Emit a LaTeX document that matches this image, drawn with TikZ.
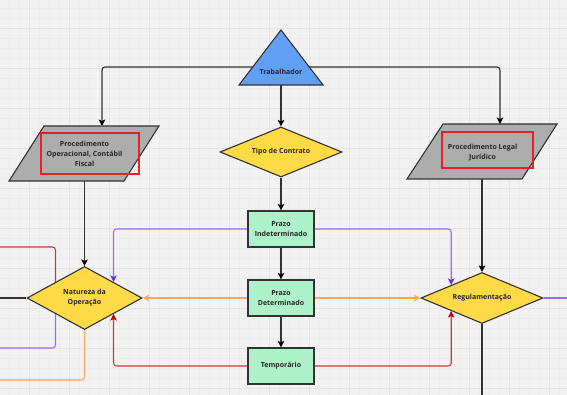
\documentclass[tikz,border=0pt]{standalone}
\usepackage{fontspec}
\setmainfont{Open Sans}
\usetikzlibrary{shapes.geometric,arrows.meta,calc}
\pgfdeclarelayer{grid}
\pgfdeclarelayer{conn}
\pgfsetlayers{grid,conn,main}
\definecolor{bgc}{HTML}{F2F2F2}
\definecolor{gridminor}{HTML}{EDEDED}
\definecolor{gridmajor}{HTML}{E4E4E4}
\definecolor{outl}{HTML}{333333}
\definecolor{triblue}{HTML}{619FF3}
\definecolor{diayel}{HTML}{FFDA47}
\definecolor{boxgreen}{HTML}{ADF2C9}
\definecolor{paragray}{HTML}{ADADAD}
\definecolor{redrect}{HTML}{E8202A}
\definecolor{purL}{HTML}{9C6CF0}
\definecolor{purD}{HTML}{6A33E0}
\definecolor{oraL}{HTML}{FFA858}
\definecolor{redL}{HTML}{CC3B3B}
\definecolor{redD}{HTML}{C00000}
\definecolor{txtc}{HTML}{262626}
\begin{document}
\begin{tikzpicture}[x=1pt,y=-1pt,
  txt/.style={font=\fontsize{7}{9.8}\selectfont\bfseries, align=center, text=txtc, inner sep=0pt},
  shp/.style={draw=outl, line width=1.1pt},
  dia/.style={shp, diamond, aspect=2, inner sep=0pt, fill=diayel, txt},
  gbox/.style={shp, rectangle, fill=boxgreen, minimum width=66pt, minimum height=36pt, inner sep=0pt, txt},
  conn/.style={draw=outl, line width=1.1pt, rounded corners=3pt, -{Stealth[length=6.5pt,width=6.5pt,inset=1.5pt,color=black]}},
  line/.style={draw=outl, line width=1.1pt, rounded corners=3pt},
  purc/.style={draw=purL, line width=1.1pt, rounded corners=3pt, -{Stealth[length=6.5pt,width=6.5pt,inset=1.5pt,color=purD]}},
  purl/.style={draw=purL, line width=1.1pt, rounded corners=3pt},
  orac/.style={draw=oraL, line width=1.1pt, rounded corners=3pt, -{Stealth[length=6.5pt,width=6.5pt,inset=1.5pt,color=oraL]}},
  oral/.style={draw=oraL, line width=1.1pt, rounded corners=3pt},
  redc/.style={draw=redL, line width=1.1pt, rounded corners=3pt, -{Stealth[length=6.5pt,width=6.5pt,inset=1.5pt,color=redD]}},
  redl/.style={draw=redL, line width=1.1pt, rounded corners=3pt},
  redbox/.style={draw=redrect, line width=1.1pt}
]
\useasboundingbox (0,0) rectangle (567,395);
\begin{pgfonlayer}{grid}
  \fill[bgc] (0,0) rectangle (567,395);
  \foreach \x in {9,19,...,567} \draw[gridminor, line width=0.4pt] (\x,0) -- (\x,395);
  \foreach \y in {8,18,...,395} \draw[gridminor, line width=0.4pt] (0,\y) -- (567,\y);
  \foreach \x in {29,69,...,567} \draw[gridmajor, line width=0.8pt] (\x,0) -- (\x,395);
  \foreach \y in {28,68,...,395} \draw[gridmajor, line width=0.8pt] (0,\y) -- (567,\y);
\end{pgfonlayer}

% Trabalhador triangle
\filldraw[shp, fill=triblue, line join=miter] (281,30) -- (323,85) -- (239,85) -- cycle;
\node[txt] (trab) at (281,72) {Trabalhador};
\coordinate (trabC) at (281,67);
\coordinate (trabB) at (281,85);

% Left parallelogram
\filldraw[shp, fill=paragray] (44,126) -- (159,126) -- (124,181) -- (9,181) -- cycle;
\draw[redbox] (41,133) rectangle (139,174);
\node[txt] (poc) at (84.5,154) {Procedimento\\Operacional, Contábil\\Fiscal};
\coordinate (pocT) at (102,126);
\coordinate (pocB) at (84.5,181);

% Right parallelogram
\filldraw[shp, fill=paragray] (443,124) -- (557,124) -- (522,179) -- (407,179) -- cycle;
\draw[redbox] (442,132) rectangle (533,168);
\node[txt] (pol) at (482.5,152.5) {Procedimento Legal\\Jurídico};
\coordinate (polT) at (500,124);
\coordinate (polB) at (482,179);

% Diamonds
\node[dia, minimum width=122pt, minimum height=50pt] (tipo) at (281,152) {Tipo de Contrato};
\node[dia, minimum width=115pt, minimum height=63pt] (nat) at (84.5,298) {Natureza da\\Operação};
\node[dia, minimum width=122pt, minimum height=51pt] (reg) at (482,298) {Regulamentação};

% Green boxes
\node[gbox] (pi) at (281,229) {Prazo\\Indeterminado};
\node[gbox] (pd) at (281,298) {Prazo\\Determinado};
\node[gbox] (temp) at (281,366) {Temporário};

% off-canvas ends
\coordinate (lr) at (0,247);
\coordinate (lp) at (0,348);
\coordinate (lo) at (0,380);
\coordinate (lb) at (0,298);
\coordinate (rp) at (567,298);
\coordinate (rb) at (482,395);

\begin{pgfonlayer}{conn}
  \draw[conn] (trabC) -| (pocT);
  \draw[conn] (trabC) -| (polT);
  \draw[conn] (trabB) -- (tipo.north);
  \draw[conn] (tipo.south) -- (pi.north);
  \draw[conn] (pi.south) -- (pd.north);
  \draw[conn] (pd.south) -- (temp.north);
  \draw[conn] (pocB) -- (nat.north);
  \draw[conn] (polB) -- (reg.north);
  \draw[purc] (pi.west) -| ($(nat.north)!0.5!(nat.east)$);
  \draw[purc] (pi.east) -| ($(reg.north)!0.5!(reg.west)$);
  \draw[orac] (pd.west) -- (nat.east);
  \draw[orac] (pd.east) -- (reg.west);
  \draw[redc] (temp.west) -| ($(nat.south)!0.5!(nat.east)$);
  \draw[redc] (temp.east) -| ($(reg.south)!0.5!(reg.west)$);
  \draw[redl] ($(nat.north)!0.5!(nat.west)$) |- (lr);
  \draw[purl] ($(nat.south)!0.5!(nat.west)$) |- (lp);
  \draw[oral] (nat.south) |- (lo);
  \draw[line] (nat.west) -- (lb);
  \draw[purl] (reg.east) -- (rp);
  \draw[line] (reg.south) -- (rb);
\end{pgfonlayer}
\end{tikzpicture}
\end{document}
